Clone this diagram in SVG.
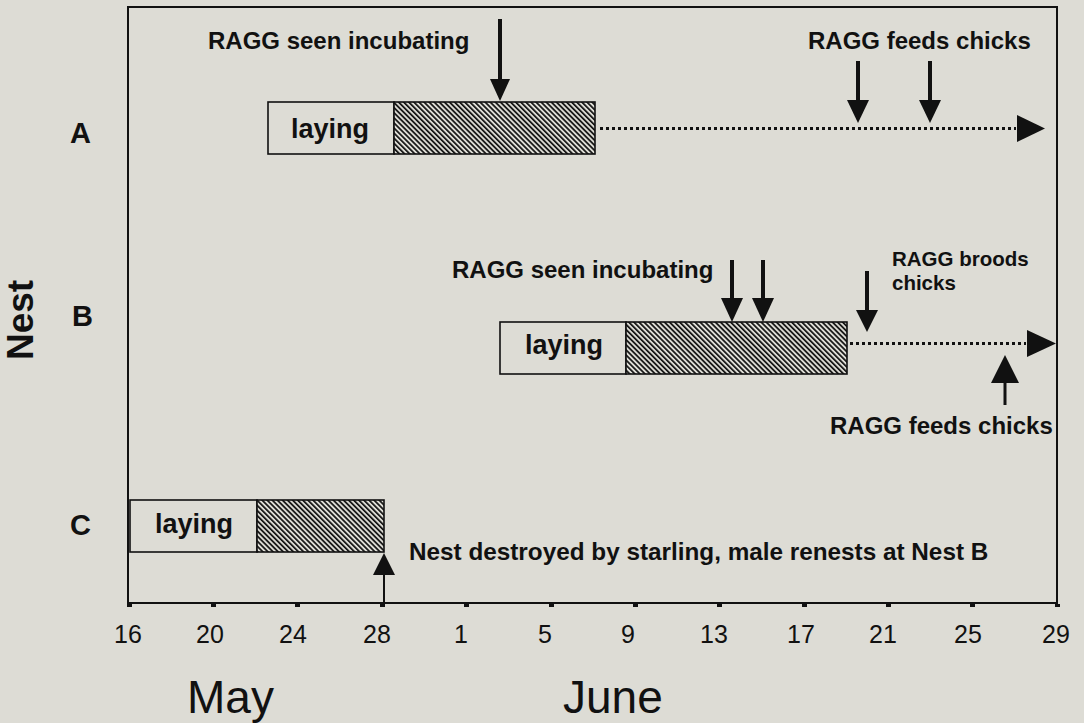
<svg xmlns="http://www.w3.org/2000/svg" width="1084" height="723" viewBox="0 0 1084 723">
<style>
.b{font-family:"Liberation Sans",Arial,sans-serif;font-weight:bold;fill:#111}
.r{font-family:"Liberation Sans",Arial,sans-serif;fill:#111}
.lay{font-size:27px;text-anchor:middle}
.ann{font-size:24px}
.tick{font-size:25px;text-anchor:middle}
.box{stroke:#111;stroke-width:1.6}
.plain{fill:#dddcd5}
.hatched{fill:url(#hatch)}
.stem{stroke:#111;fill:none}
.dot{stroke:#111;stroke-width:3;stroke-dasharray:3 3;fill:none}
.head{fill:#111}
</style>
<defs>
<pattern id="hatch" patternUnits="userSpaceOnUse" width="3.6" height="10" patternTransform="rotate(-45)">
<rect x="0" y="0" width="3.6" height="10" fill="#dddcd5"/>
<rect x="0" y="0" width="1.7" height="10" fill="#111"/>
</pattern>
</defs>
<rect x="0" y="0" width="1084" height="723" fill="#dddcd5"/>
<g id="frame">
<rect x="128" y="7" width="929" height="596" fill="none" stroke="#111" stroke-width="2"/>
<g fill="#111">
<rect x="127" y="604" width="5" height="3"/>
<rect x="211" y="604" width="5" height="3"/>
<rect x="295" y="604" width="5" height="3"/>
<rect x="380" y="604" width="5" height="3"/>
<rect x="464" y="604" width="5" height="3"/>
<rect x="549" y="604" width="5" height="3"/>
<rect x="633" y="604" width="5" height="3"/>
<rect x="717" y="604" width="5" height="3"/>
<rect x="802" y="604" width="5" height="3"/>
<rect x="886" y="604" width="5" height="3"/>
<rect x="970" y="604" width="5" height="3"/>
<rect x="1055" y="604" width="5" height="3"/>
</g>
<g class="r tick">
<text x="128" y="643">16</text>
<text x="210" y="643">20</text>
<text x="293" y="643">24</text>
<text x="377" y="643">28</text>
<text x="461" y="643">1</text>
<text x="545" y="643">5</text>
<text x="628" y="643">9</text>
<text x="714" y="643">13</text>
<text x="801" y="643">17</text>
<text x="883" y="643">21</text>
<text x="968" y="643">25</text>
<text x="1056" y="643">29</text>
</g>
<text class="r" x="187" y="713" font-size="46">May</text>
<text class="r" x="563" y="713" font-size="46">June</text>
<text class="b" font-size="37" text-anchor="middle" transform="translate(33,320) rotate(-90)">Nest</text>
<text class="b" x="70" y="143" font-size="29">A</text>
<text class="b" x="72" y="326" font-size="29">B</text>
<text class="b" x="70" y="535" font-size="29">C</text>
</g>
<g id="nestA">
<rect x="268" y="102" width="126" height="52" class="box plain"/>
<rect x="394" y="102" width="201" height="52" class="box hatched"/>
<text class="b lay" x="330" y="138">laying</text>
</g>
<g id="nestB">
<rect x="500" y="322" width="126" height="52" class="box plain"/>
<rect x="626" y="322" width="221" height="52" class="box hatched"/>
<text class="b lay" x="564" y="354">laying</text>
</g>
<g id="nestC">
<rect x="130" y="500" width="127" height="52" class="box plain"/>
<rect x="257" y="500" width="127" height="52" class="box hatched"/>
<text class="b lay" x="194" y="533">laying</text>
</g>
<g id="labels">
<text class="b ann" x="208" y="49">RAGG seen incubating</text>
<text class="b ann" x="808" y="49">RAGG feeds chicks</text>
<text class="b ann" x="452" y="278">RAGG seen incubating</text>
<text class="b" x="892" y="266" font-size="20.5">RAGG broods</text>
<text class="b" x="892" y="290" font-size="20.5">chicks</text>
<text class="b ann" x="830" y="434">RAGG feeds chicks</text>
<text class="b" x="409" y="560" font-size="24.3">Nest destroyed by starling, male renests at Nest B</text>
</g>
<g id="connectors">
<line class="stem" x1="500" y1="19" x2="500" y2="81" stroke-width="4"/>
<polygon class="head" points="490,79 510,79 500,101"/>
<line class="stem" x1="858" y1="61" x2="858" y2="102" stroke-width="4"/>
<polygon class="head" points="847,100 869,100 858,123"/>
<line class="stem" x1="930" y1="61" x2="930" y2="102" stroke-width="4"/>
<polygon class="head" points="919,100 941,100 930,123"/>
<line class="dot" x1="600" y1="128.5" x2="1016" y2="128.5"/>
<polygon class="head" points="1017,115 1017,142 1045,128.5"/>
<line class="stem" x1="732" y1="260" x2="732" y2="300" stroke-width="4"/>
<polygon class="head" points="721,298 743,298 732,322"/>
<line class="stem" x1="763" y1="260" x2="763" y2="300" stroke-width="4"/>
<polygon class="head" points="752,298 774,298 763,322"/>
<line class="stem" x1="867" y1="271" x2="867" y2="312" stroke-width="4"/>
<polygon class="head" points="856,310 878,310 867,332"/>
<line class="dot" x1="850" y1="343.5" x2="1026" y2="343.5"/>
<polygon class="head" points="1027,330 1027,357 1056,343.5"/>
<line class="stem" x1="1005" y1="381" x2="1005" y2="405" stroke-width="3"/>
<polygon class="head" points="991,383 1019,383 1005,355"/>
<line class="stem" x1="384" y1="573" x2="384" y2="603" stroke-width="2"/>
<polygon class="head" points="373,575 395,575 384,553"/>
</g>
</svg>
